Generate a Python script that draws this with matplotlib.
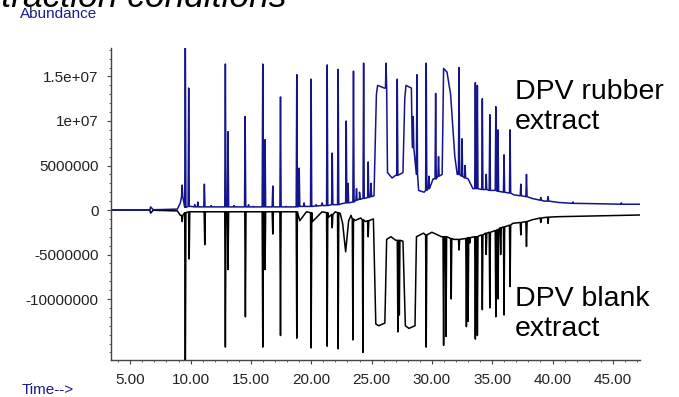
import numpy as np
from matplotlib import pyplot as plt
from matplotlib.ticker import MultipleLocator

plt.rcParams['font.family'] = ['Liberation Sans', 'DejaVu Sans']

# x / y ticks
time_ticks = [5, 10, 15, 20, 25, 30, 35, 40, 45]
time_labels = ['5.00', '10.00', '15.00', '20.00', '25.00', '30.00', '35.00', '40.00', '45.00']
abund_ticks = [-1e7, -5e6, 0, 5e6, 1e7, 1.5e7]
abund_labels = ['-10000000', '-5000000', '0', '5000000', '1e+07', '1.5e+07']

# DPV rubber extract (drawn upward) - baseline / broad features
rubber_base_t = [3.4, 6.62, 6.68, 6.9, 8.9, 9.15, 10.05, 12.5, 18.4, 22.5, 24.0, 25.2,
                 25.4, 25.5, 26.05, 26.32, 26.7, 27.0, 27.6, 27.75, 27.85, 28.3, 28.36,
                 28.9, 29.35, 30.1, 30.85, 30.97, 31.25, 31.55, 31.9, 32.1, 33.0, 33.4,
                 36.8, 38.3, 39.3, 40.5, 44.0, 47.25]
rubber_base_v = [0, 0, 3.5e5, 3e4, 1e5, 8e5, 4e5, 3.5e5, 3.5e5, 7e5, 1.2e6, 1.6e6,
                 1.3e7, 1.4e7, 1.37e7, 4.2e6, 3.6e6, 3.9e6, 4.2e6, 1.25e7, 1.4e7, 1.37e7, 8e6,
                 2.2e6, 2.0e6, 3.5e6, 4e6, 1.59e7, 1.55e7, 1.3e7, 6e6, 4e6, 3.5e6, 2.4e6,
                 1.7e6, 1.3e6, 1.0e6, 8.5e5, 7e5, 6.5e5]
# sharp peaks: retention time, apex, foot level
rubber_peak_t = [9.30, 9.56, 9.84, 10.35, 10.60, 11.14, 11.70, 12.88, 13.10, 13.60,
                 14.52, 14.80, 15.20, 15.98, 16.17, 16.81, 17.45, 17.90, 18.80, 19.00,
                 19.40, 19.99, 20.40, 20.90, 21.32, 21.74, 22.23, 22.90, 23.05, 23.50,
                 23.75, 24.00, 24.34, 24.72, 24.95, 26.20, 27.13, 28.45, 28.76, 29.53,
                 29.75, 30.31, 30.55, 32.25, 32.50, 32.75, 33.60, 33.77, 34.18, 34.50,
                 34.80, 35.30, 35.48, 35.98, 36.48, 37.37, 37.84, 39.03, 39.63, 41.70,
                 45.70]
rubber_peak_h = [2.8e6, 2.0e7, 1.37e7, 6e5, 9e5, 2.9e6, 5e5, 1.64e7, 8.8e6, 5e5,
                 1.05e7, 6e5, 4e5, 1.64e7, 7.9e6, 2.7e6, 1.27e7, 4e5, 1.52e7, 4.7e6,
                 8e5, 1.47e7, 6e5, 8e5, 1.63e7, 6.4e6, 1.58e7, 1.0e7, 3e6, 1.56e7,
                 2.4e6, 2.0e6, 1.65e7, 5.4e6, 3e6, 1.65e7, 1.47e7, 1.05e7, 1.52e7, 1.65e7,
                 3.8e6, 1.31e7, 6e6, 1.6e7, 8e6, 5e6, 1.43e7, 1.4e7, 1.25e7, 4e6,
                 1.07e7, 1.16e7, 9e6, 6.2e6, 9e6, 2.9e6, 4.0e6, 1.4e6, 1.5e6, 9e5,
                 8e5]
rubber_peak_foot = [1.5e6, 3e5, 4e5, 3.5e5, 3.5e5, 3.5e5, 3.5e5, 3.5e5, 3.5e5, 3.5e5,
                    3.5e5, 3.5e5, 3.5e5, 3.5e5, 3.5e5, 3.5e5, 3.5e5, 3.5e5, 3.5e5, 4e5,
                    4e5, 4e5, 4.5e5, 5e5, 5e5, 6e5, 6e5, 8e5, 8e5, 9e5,
                    1.1e6, 1.2e6, 1.3e6, 1.4e6, 1.5e6, 1.37e7, 3.9e6, 7e6, 4e6, 2.2e6,
                    2.4e6, 3.5e6, 3.8e6, 4e6, 3.8e6, 3.6e6, 2.4e6, 2.4e6, 2.3e6, 2.3e6,
                    2.2e6, 2.2e6, 2.1e6, 2.0e6, 1.9e6, 1.6e6, 1.5e6, 1.1e6, 1.0e6, 7.5e5,
                    6.5e5]

# DPV blank extract (drawn downward)
blank_base_t = [3.4, 6.62, 6.68, 6.9, 8.9, 9.15, 10.05, 12.5, 18.4, 19.05, 19.6, 20.1,
                20.9, 21.45, 22.0, 22.4, 22.6, 22.85, 23.1, 23.3, 23.6, 24.1, 24.5, 25.15,
                25.35, 25.6, 26.1, 26.25, 26.6, 27.0, 27.6, 27.8, 28.1, 28.6, 28.72, 29.3,
                30.0, 30.8, 31.8, 33.9, 36.7, 38.3, 40.5, 47.25]
blank_base_v = [0, 0, -3.5e5, -3e4, -1e5, -6e5, -2e5, -2e5, -2e5, -1.2e6, -2e5, -1.3e6,
                -2e5, -8e5, -2e5, -4e5, -1.5e6, -4.7e6, -1.2e6, -6e5, -1.2e6, -9e5, -1.3e6, -1e6,
                -1.28e7, -1.3e7, -1.27e7, -3.3e6, -3e6, -3.4e6, -3.5e6, -1.3e7, -1.33e7, -1.3e7, -3e6, -2.6e6,
                -2.5e6, -3e6, -3.3e6, -2.9e6, -1.5e6, -1.1e6, -7.5e5, -5.6e5]
blank_peak_t = [9.30, 9.56, 9.88, 11.17, 12.88, 13.10, 14.54, 15.98, 16.17, 16.81,
                17.45, 18.80, 19.99, 21.32, 21.74, 22.23, 23.45, 24.28, 24.72, 27.18,
                27.30, 29.53, 30.97, 31.17, 31.60, 32.25, 32.86, 33.00, 33.14, 33.60,
                33.77, 34.18, 34.50, 34.80, 35.30, 35.48, 35.70, 35.98, 36.48, 37.37,
                37.84, 39.03, 39.63]
blank_peak_h = [-1.3e6, -2.0e7, -5.5e6, -3.9e6, -1.54e7, -6.7e6, -1.2e7, -1.54e7, -6.7e6, -2.7e6,
                -1.41e7, -1.44e7, -1.55e7, -1.53e7, -2e6, -1.56e7, -1.46e7, -1.6e7, -3e6, -1.37e7,
                -1.18e7, -1.54e7, -1.52e7, -1.42e7, -1.0e7, -4.5e6, -1.31e7, -1.25e7, -3.7e6, -1.45e7,
                -1.41e7, -1.12e7, -5e6, -1.1e7, -1.2e7, -1.0e7, -5e6, -1.18e7, -8.6e6, -2.8e6,
                -4.1e6, -1.4e6, -1.5e6]
blank_peak_foot = [-6e5, -3e5, -2e5, -2e5, -2e5, -2e5, -2e5, -2e5, -2e5, -2e5,
                   -2e5, -2e5, -3e5, -3e5, -5e5, -3e5, -1.0e6, -1.1e6, -1.2e6, -3.4e6,
                   -3.4e6, -2.8e6, -3e6, -3e6, -3.2e6, -3.3e6, -3.2e6, -3.1e6, -3.1e6, -3e6,
                   -3e6, -2.8e6, -2.6e6, -2.5e6, -2.3e6, -2.2e6, -2.0e6, -1.9e6, -1.7e6, -1.4e6,
                   -1.3e6, -9e5, -8e5]


def build_trace(base_t, base_v, peak_t, peak_h, peak_foot, hw=0.05):
    t = list(base_t)
    v = list(base_v)
    for pt, ph, pf in zip(peak_t, peak_h, peak_foot):
        t += [pt - hw, pt, pt + hw]
        v += [pf, ph, pf]
    order = np.argsort(t, kind='stable')
    return np.array(t)[order], np.array(v)[order]


fig = plt.figure(figsize=(6.79, 3.97), dpi=100)
ax = fig.add_axes([111 / 679, 37 / 397, 529 / 679, 312 / 397])

rt, rv = build_trace(rubber_base_t, rubber_base_v, rubber_peak_t, rubber_peak_h, rubber_peak_foot)
bt, bv = build_trace(blank_base_t, blank_base_v, blank_peak_t, blank_peak_h, blank_peak_foot)
ax.plot(bt, bv, color='black', lw=1.1)
ax.plot(rt, rv, color='#14148c', lw=1.1)

ax.set_xlim(3.4, 47.25)
ax.set_ylim(-1.685e7, 1.82e7)
ax.set_xticks(time_ticks)
ax.set_xticklabels(time_labels)
ax.set_yticks(abund_ticks)
ax.set_yticklabels(abund_labels)
ax.xaxis.set_minor_locator(MultipleLocator(1))
ax.yaxis.set_minor_locator(MultipleLocator(1e6))
ax.tick_params(which='major', length=3, width=0.8, color='#444444', labelsize=11,
               labelcolor='#222222', pad=6)
ax.tick_params(which='minor', length=1.6, width=0.6, color='#444444')
for s in ['top', 'right']:
    ax.spines[s].set_visible(False)
for s in ['left', 'bottom']:
    ax.spines[s].set_color('#444444')
    ax.spines[s].set_linewidth(1)

fig.text(287 / 679, 1 - 7 / 397, 'Extraction conditions', ha='right', va='baseline',
         fontsize=25.5, style='italic', color='black')
fig.text(20 / 679, 1 - 14 / 397, 'Abundance', va='center', fontsize=11, color='#1a1a8a')
fig.text(22 / 679, 1 - 394 / 397, 'Time-->', va='baseline', fontsize=11, color='#1a1a8a')
fig.text(515 / 679, 1 - 79 / 397, 'DPV rubber\nextract', va='top', fontsize=20.5,
         linespacing=1.2)
fig.text(515 / 679, 1 - 286 / 397, 'DPV blank\nextract', va='top', fontsize=20.5,
         linespacing=1.2)

fig.savefig('out.png', dpi=100)
